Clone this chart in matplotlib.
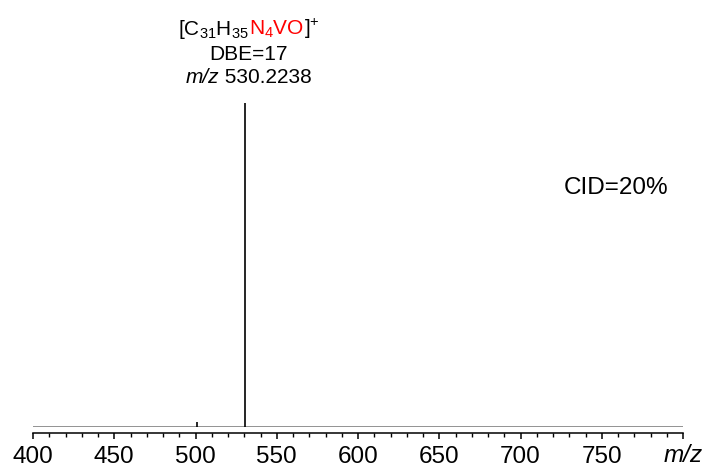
import matplotlib
matplotlib.use("Agg")
import matplotlib.pyplot as plt
from matplotlib.ticker import MultipleLocator, FixedLocator, FixedFormatter
from matplotlib.offsetbox import TextArea, HPacker, VPacker, AnnotationBbox

plt.rcParams['font.family'] = ['Liberation Sans', 'DejaVu Sans']
plt.rcParams['mathtext.fontset'] = 'custom'
plt.rcParams['mathtext.rm'] = 'Liberation Sans'
plt.rcParams['mathtext.it'] = 'Liberation Sans:italic'

# data
peak_mz = [500.8, 530.2238]
peak_int = [1.6, 100.0]
x_min, x_max = 400, 800
major_ticks = [400, 450, 500, 550, 600, 650, 700, 750, 800]
major_labels = ['400', '450', '500', '550', '600', '650', '700', '750', '']

fig = plt.figure(figsize=(7.04, 4.68), dpi=100)
ax = fig.add_axes([33/704, 1-427/468, 650/704, 324/468])
ax.axhline(0, color='#808080', lw=1.2, zorder=1)
ax.vlines(peak_mz, 0, peak_int, color='black', lw=1.2, zorder=2)
ax.set_xlim(x_min, x_max)
ax.set_ylim(0, 100)

for s in ['top', 'right', 'left']:
    ax.spines[s].set_visible(False)
ax.spines['bottom'].set_position(('outward', 4.4))
ax.spines['bottom'].set_linewidth(1.1)
ax.set_yticks([])
ax.xaxis.set_major_locator(FixedLocator(major_ticks))
ax.xaxis.set_major_formatter(FixedFormatter(major_labels))
ax.xaxis.set_minor_locator(MultipleLocator(10))
ax.tick_params(axis='x', which='major', length=4.6, width=1.1, pad=4.5, labelsize=17.5)
ax.tick_params(axis='x', which='minor', length=3.1, width=1.0)

ax.text(800, -0.054, 'm/z', transform=ax.get_xaxis_transform(), ha='center', va='top',
        fontsize=17.5, style='italic')

# annotation
fs = 15
parts = [('[C$_{31}$H$_{35}$', 'black'), ('N$_{4}$VO', 'red'), (']$^{+}$', 'black')]
line1 = HPacker(children=[TextArea(t, textprops=dict(color=c, fontsize=fs)) for t, c in parts],
                align='baseline', pad=0, sep=0)
line2 = TextArea('DBE=17', textprops=dict(fontsize=fs))
line3 = HPacker(children=[TextArea('m/z', textprops=dict(fontsize=fs, style='italic')),
                          TextArea(' 530.2238', textprops=dict(fontsize=fs))],
                align='baseline', pad=0, sep=0)
box = VPacker(children=[line1, line2, line3], align='center', pad=0, sep=3)
ab = AnnotationBbox(box, (peak_mz[1], 100), xybox=(3, 11.5), xycoords='data',
                    boxcoords='offset points', box_alignment=(0.5, 0), frameon=False)
ax.add_artist(ab)

ax.text(0.977, 0.738, 'CID=20%', transform=ax.transAxes, ha='right', va='center', fontsize=17.5)

fig.savefig('out.png', dpi=100)
